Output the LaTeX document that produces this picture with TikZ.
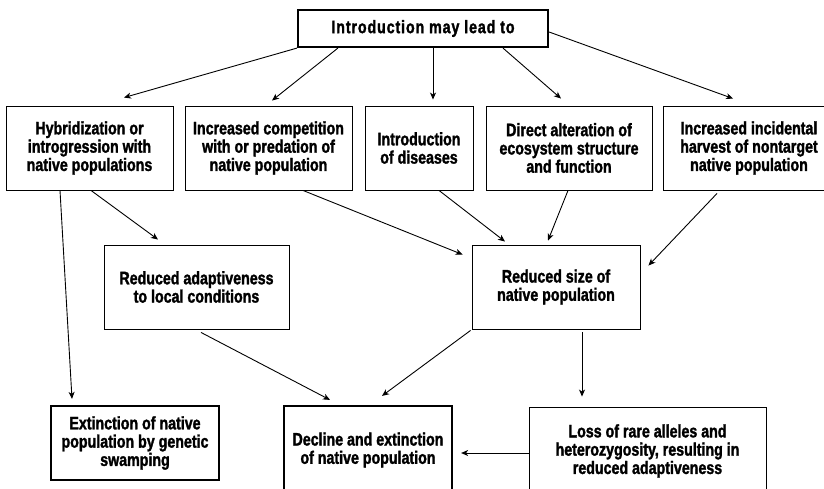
\documentclass[tikz,border=0pt]{standalone}
\usepackage{fontspec}
\usetikzlibrary{arrows.meta}
\newfontfamily\boxfont{Liberation Sans Bold}[FakeStretch=0.79, FakeBold=1.6]

\tikzset{
  box/.style={draw, line width=0.9pt, rectangle, inner sep=0pt, align=center,
    font=\boxfont\fontsize{18}{18.3}\selectfont},
  keybox/.style={box, line width=2.2pt},
  arr/.style={line width=0.9pt, -{Stealth[length=7pt,width=6pt,inset=2pt]}}
}

\begin{document}
\begin{tikzpicture}[x=1pt,y=-1pt]
  \path[use as bounding box, clip] (0,0) rectangle (824,489);
  \fill[white] (0,0) rectangle (824,489);

  % top
  \node[keybox, minimum width=250pt, minimum height=37pt] (top) at (423,28.5)
    {\addfontfeature{LetterSpace=5}Introduction may lead to};

  % first row of consequences
  \node[box, minimum width=167pt, minimum height=84pt] (b1) at (89.5,148)
    {Hybridization or\\introgression with\\native populations};
  \node[box, minimum width=167pt, minimum height=84pt] (b2) at (268.5,148)
    {Increased competition\\with or predation of\\native population};
  \node[box, minimum width=108pt, minimum height=84pt] (b3) at (419,148)
    {Introduction\\of diseases};
  \node[box, minimum width=166pt, minimum height=84pt] (b4) at (569,148)
    {Direct alteration of\\ecosystem structure\\and function};
  \node[box, minimum width=172pt, minimum height=84pt] (b5) at (749,148)
    {Increased incidental\\harvest of nontarget\\native population};

  % second row
  \node[box, minimum width=185pt, minimum height=84pt] (ra) at (196.5,287)
    {Reduced adaptiveness\\to local conditions};
  \node[box, minimum width=168pt, minimum height=84pt] (rs) at (556,287)
    {Reduced size of\\native population};

  % outcomes
  \node[keybox, minimum width=168pt, minimum height=74pt] (ex) at (135,443)
    {Extinction of native\\population by genetic\\swamping};
  \node[keybox, minimum width=168pt, minimum height=88pt] (dc) at (368,450)
    {Decline and extinction\\of native population};
  \node[box, minimum width=237pt, minimum height=88pt] (ls) at (647.5,451)
    {Loss of rare alleles and\\heterozygosity, resulting in\\reduced adaptiveness};

  % connectors
  \draw[arr] (top.south west) -- ([shift={(34.5,-8)}]b1.north);
  \draw[arr] ([shift={(41,0)}]top.south west) -- ([shift={(3.5,-5)}]b2.north);
  \draw[arr] ([shift={(10,0)}]top.south) -- ([shift={(14,-6)}]b3.north);
  \draw[arr] ([shift={(80,0)}]top.south) -- ([shift={(-8,-7)}]b4.north);
  \draw[arr] ([shift={(0,3.5)}]top.east) -- ([shift={(-16,-7)}]b5.north);

  \draw[arr] ([shift={(-29.5,0)}]b1.south) -- ([shift={(-63,-6)}]ex.north);
  \draw[arr] ([shift={(1.5,0)}]b1.south) -- ([shift={(-38.5,-5)}]ra.north);
  \draw[arr] ([shift={(34.5,0)}]b2.south) -- ([shift={(-9,10)}]rs.north west);
  \draw[arr] ([shift={(20,0)}]b3.south) -- ([shift={(-51,-3)}]rs.north);
  \draw[arr] ([shift={(-1,0)}]b4.south) -- ([shift={(-8,-4)}]rs.north);
  \draw[arr] ([shift={(-32,3)}]b5.south) -- ([shift={(8,21)}]rs.north east);

  \draw[arr] ([shift={(4.5,3)}]ra.south) -- ([shift={(-38,-5)}]dc.north);
  \draw[arr] ([shift={(-1,1)}]rs.south west) -- ([shift={(14,-9)}]dc.north);
  \draw[arr] ([shift={(26,3)}]rs.south) -- ([shift={(-65.5,-10)}]ls.north);
  \draw[arr] ([shift={(0,2)}]ls.west) -- ([shift={(8,3)}]dc.east);
\end{tikzpicture}
\end{document}
